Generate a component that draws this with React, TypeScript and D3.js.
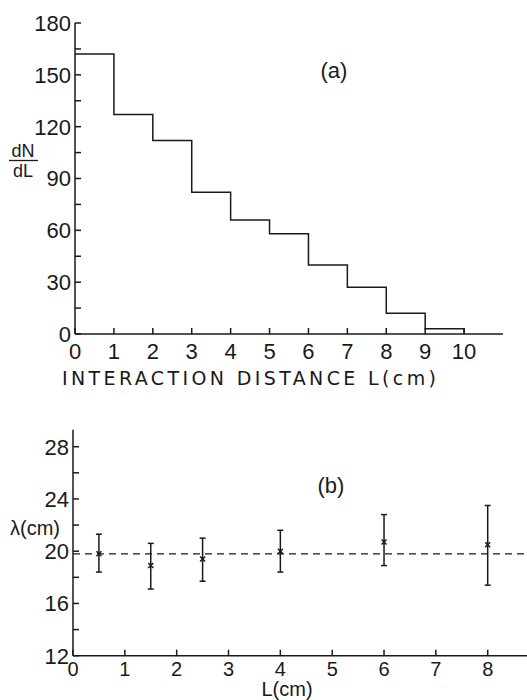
import * as d3 from "d3";

// panel (a): histogram dN/dL vs interaction distance
const binEdges = [0, 1, 2, 3, 4, 5, 6, 7, 8, 9, 10];
const dNdL = [162, 127, 112, 82, 66, 58, 40, 27, 12, 3];
const aYTicks = [0, 30, 60, 90, 120, 150, 180];
const aYMinor = [15, 45, 75, 105, 135, 165];
const aXTicks = [0, 1, 2, 3, 4, 5, 6, 7, 8, 9, 10];

// panel (b): attenuation length vs L
const bL = [0.5, 1.5, 2.5, 4, 6, 8];
const bLambda = [19.8, 18.9, 19.4, 20.0, 20.7, 20.5];
const bLow = [18.4, 17.1, 17.7, 18.4, 18.9, 17.4];
const bHigh = [21.3, 20.6, 21.0, 21.6, 22.8, 23.5];
const bMean = 19.8;
const bYTicks = [12, 16, 20, 24, 28];
const bYMinor = [14, 18, 22, 26];
const bXTicks = [0, 1, 2, 3, 4, 5, 6, 7, 8];

const INK = "#1a1a1a";
const FONT = "'Liberation Sans', Arial, sans-serif";

export default function App() {
  const xA = d3.scaleLinear().domain([0, 11]).range([75, 503]);
  const yA = d3.scaleLinear().domain([0, 180]).range([334, 23]);

  const xB = d3.scaleLinear().domain([0, 8]).range([73, 487.7]);
  const yB = d3.scaleLinear().domain([12, 28]).range([655.7, 446.7]);

  // step outline of histogram
  const pts: [number, number][] = [];
  dNdL.forEach((v, i) => {
    pts.push([binEdges[i], v]);
    pts.push([binEdges[i + 1], v]);
  });
  pts.push([binEdges[binEdges.length - 1], 0]);
  const stepLine = d3
    .line<[number, number]>()
    .x((d) => xA(d[0]))
    .y((d) => yA(d[1]));

  const tk = 6;

  return (
    <svg
      width={527}
      height={700}
      style={{ position: "absolute", left: 0, top: 0, background: "#fff" }}
      fontFamily={FONT}
      fill={INK}
    >
      {/* ---------- panel (a) ---------- */}
      <g stroke={INK} strokeWidth={1.5} fill="none">
        <line x1={xA(0)} x2={xA(0)} y1={yA(180)} y2={yA(0)} />
        <line x1={xA(0)} x2={xA(11)} y1={yA(0)} y2={yA(0)} />
        {aYTicks.map((t) => (
          <line key={"ay" + t} x1={xA(0)} x2={xA(0) + tk} y1={yA(t)} y2={yA(t)} />
        ))}
        {aYMinor.map((t) => (
          <line key={"aym" + t} x1={xA(0)} x2={xA(0) + tk} y1={yA(t)} y2={yA(t)} />
        ))}
        {aXTicks.map((t) => (
          <line key={"ax" + t} x1={xA(t)} x2={xA(t)} y1={yA(0)} y2={yA(0) - tk} />
        ))}
        <path d={stepLine(pts) || ""} />
      </g>
      {aYTicks.map((t) => (
        <text key={"ayl" + t} x={71} y={yA(t)} dy="0.36em" textAnchor="end" fontSize={22}>
          {t}
        </text>
      ))}
      {aXTicks.map((t) => (
        <text key={"axl" + t} x={xA(t)} y={359} textAnchor="middle" fontSize={22}>
          {t}
        </text>
      ))}
      <text
        x={62}
        y={385}
        fontSize={19}
        fontFamily="'DejaVu Sans', sans-serif"
        textLength={374}
        lengthAdjust="spacing"
      >
        INTERACTION DISTANCE L(cm)
      </text>
      <text x={334} y={78} textAnchor="middle" fontSize={22}>
        (a)
      </text>
      <text x={23} y={157} textAnchor="middle" fontSize={18}>
        dN
      </text>
      <line x1={9} x2={38} y1={160.5} y2={160.5} stroke={INK} strokeWidth={1.3} />
      <text x={23} y={177} textAnchor="middle" fontSize={18}>
        dL
      </text>

      {/* ---------- panel (b) ---------- */}
      <g stroke={INK} strokeWidth={1.5} fill="none">
        <line x1={xB(0)} x2={xB(0)} y1={yB(29.3)} y2={yB(12)} />
        <line x1={xB(0)} x2={527} y1={yB(12)} y2={yB(12)} />
        {bYTicks.map((t) => (
          <line key={"by" + t} x1={xB(0)} x2={xB(0) + tk} y1={yB(t)} y2={yB(t)} />
        ))}
        {bYMinor.map((t) => (
          <line key={"bym" + t} x1={xB(0)} x2={xB(0) + tk} y1={yB(t)} y2={yB(t)} />
        ))}
        {bXTicks.map((t) => (
          <line key={"bx" + t} x1={xB(t)} x2={xB(t)} y1={yB(12)} y2={yB(12) - tk} />
        ))}
        <line
          x1={xB(0)}
          x2={527}
          y1={yB(bMean)}
          y2={yB(bMean)}
          strokeDasharray="7,5"
          strokeWidth={1.3}
        />
        {bL.map((l, i) => {
          const cx = xB(l);
          const cy = yB(bLambda[i]);
          return (
            <g key={"pt" + i}>
              <line x1={cx} x2={cx} y1={yB(bHigh[i])} y2={yB(bLow[i])} />
              <line x1={cx - 3} x2={cx + 3} y1={yB(bHigh[i])} y2={yB(bHigh[i])} />
              <line x1={cx - 3} x2={cx + 3} y1={yB(bLow[i])} y2={yB(bLow[i])} />
              <line x1={cx - 2.5} x2={cx + 2.5} y1={cy - 2.5} y2={cy + 2.5} />
              <line x1={cx - 2.5} x2={cx + 2.5} y1={cy + 2.5} y2={cy - 2.5} />
            </g>
          );
        })}
      </g>
      {bYTicks.map((t) => (
        <text key={"byl" + t} x={69} y={yB(t)} dy="0.36em" textAnchor="end" fontSize={22}>
          {t}
        </text>
      ))}
      {bXTicks.map((t) => (
        <text key={"bxl" + t} x={xB(t)} y={676} textAnchor="middle" fontSize={20}>
          {t}
        </text>
      ))}
      <text x={287} y={696} textAnchor="middle" fontSize={20}>
        L(cm)
      </text>
      <text x={331} y={493} textAnchor="middle" fontSize={22}>
        (b)
      </text>
      <text x={35} y={535} textAnchor="middle" fontSize={20}>
        λ(cm)
      </text>
    </svg>
  );
}
